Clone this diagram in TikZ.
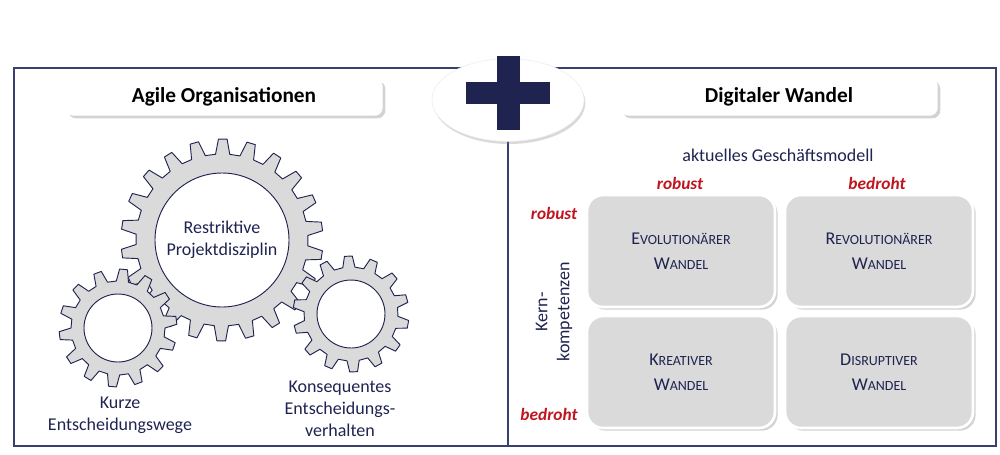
\documentclass[tikz,border=0pt]{standalone}
\usepackage{fontspec}
\setmainfont{Carlito}
\usetikzlibrary{shadows,shapes.geometric}
\definecolor{navy}{HTML}{1F2350}
\definecolor{rd}{HTML}{C0141E}
\definecolor{gfill}{HTML}{DADADA}
\definecolor{frame}{HTML}{3A3F6E}
\newcommand{\mygear}[8]{% name,x,y,n,root,outer,inner,rot
\begin{scope}[shift={(#2,#3)},rotate=#8]
\draw[gearst] (0:#5) \foreach \i [evaluate=\i as \a using {(\i-1)*360/#4}] in {1,...,#4}{
 -- ({\a+0.42*360/#4}:#5) -- ({\a+0.56*360/#4}:#6) -- ({\a+0.86*360/#4}:#6) -- ({\a+1.0*360/#4}:#5)} -- cycle;
\fill[white,draw=navy,line width=0.7pt] (0,0) circle (#7);
\end{scope}
\coordinate (#1) at (#2,#3);}
\newcommand{\sck}[2]{#1{\fontsize{10.5}{12}\selectfont #2}}
\begin{document}
\begin{tikzpicture}[x=0.75pt,y=-0.75pt,
 gearst/.style={fill=gfill,draw=navy,line width=0.7pt,line join=round},
 title/.style={fill=white,rounded corners=6pt,drop shadow={shadow xshift=2pt,shadow yshift=-2pt,opacity=0.35},font=\bfseries\fontsize{16}{18}\selectfont,text=black},
 cell/.style={fill=gfill,draw=white,line width=2pt,rounded corners=12pt,drop shadow={shadow xshift=2pt,shadow yshift=-2pt,opacity=0.35},minimum width=141pt,minimum height=84pt,align=center,text=navy,font=\fontsize{13.5}{19}\selectfont},
 lbl/.style={align=center,text=navy,font=\fontsize{13.5}{16.5}\selectfont},
 red/.style={text=rd,font=\bfseries\itshape\fontsize{13}{14}\selectfont}]
\useasboundingbox (0,0) rectangle (1000,454);
\draw[frame,line width=0.8pt] (14,68) rectangle (996,446);
\draw[frame,line width=0.8pt] (508,68) -- (508,446);
% plus ellipse
\node[ellipse,fill=white,draw=gray!15,minimum width=114pt,minimum height=62pt,drop shadow={shadow xshift=1pt,shadow yshift=-2pt,opacity=0.3}] (ell) at (508,100) {};
\fill[navy] (497,56) rectangle (520,130);
\fill[navy] (466,82) rectangle (550,104);
\node[title,minimum width=238pt,minimum height=28pt] (t1) at (224,97) {Agile Organisationen};
\node[title,minimum width=238pt,minimum height=28pt] (t2) at (779,97) {Digitaler Wandel};
% gears
\mygear{g1}{222}{240}{22}{86}{101}{67}{3}
\mygear{g2}{118}{328}{14}{47}{59}{34}{0}
\mygear{g3}{351}{314}{14}{47}{58}{34}{8}
\node[lbl] (l1) at (g1) {Restriktive\\Projektdisziplin};
\node[lbl] (l2) at (120,415) {Kurze\\Entscheidungswege};
\node[lbl] (l3) at (340,409) {Konsequentes\\Entscheidungs-\\verhalten};
% matrix
\node[lbl] (akt) at (778,155) {aktuelles Geschäftsmodell};
\node[red] (cr) at (680,183) {robust};
\node[red] (cb) at (877,183) {bedroht};
\node[red] (rr) at (554,213) {robust};
\node[red] (rb) at (549,414) {bedroht};
\node[lbl,rotate=90] (kk) at (554,312) {Kern-\\kompetenzen};
\node[cell] (c1) at (681,251) {\sck{E}{VOLUTIONÄRER}\\\sck{W}{ANDEL}};
\node[cell] (c2) at (879,251) {\sck{R}{EVOLUTIONÄRER}\\\sck{W}{ANDEL}};
\node[cell] (c3) at (681,372) {\sck{K}{REATIVER}\\\sck{W}{ANDEL}};
\node[cell] (c4) at (879,372) {\sck{D}{ISRUPTIVER}\\\sck{W}{ANDEL}};
\end{tikzpicture}
\end{document}
